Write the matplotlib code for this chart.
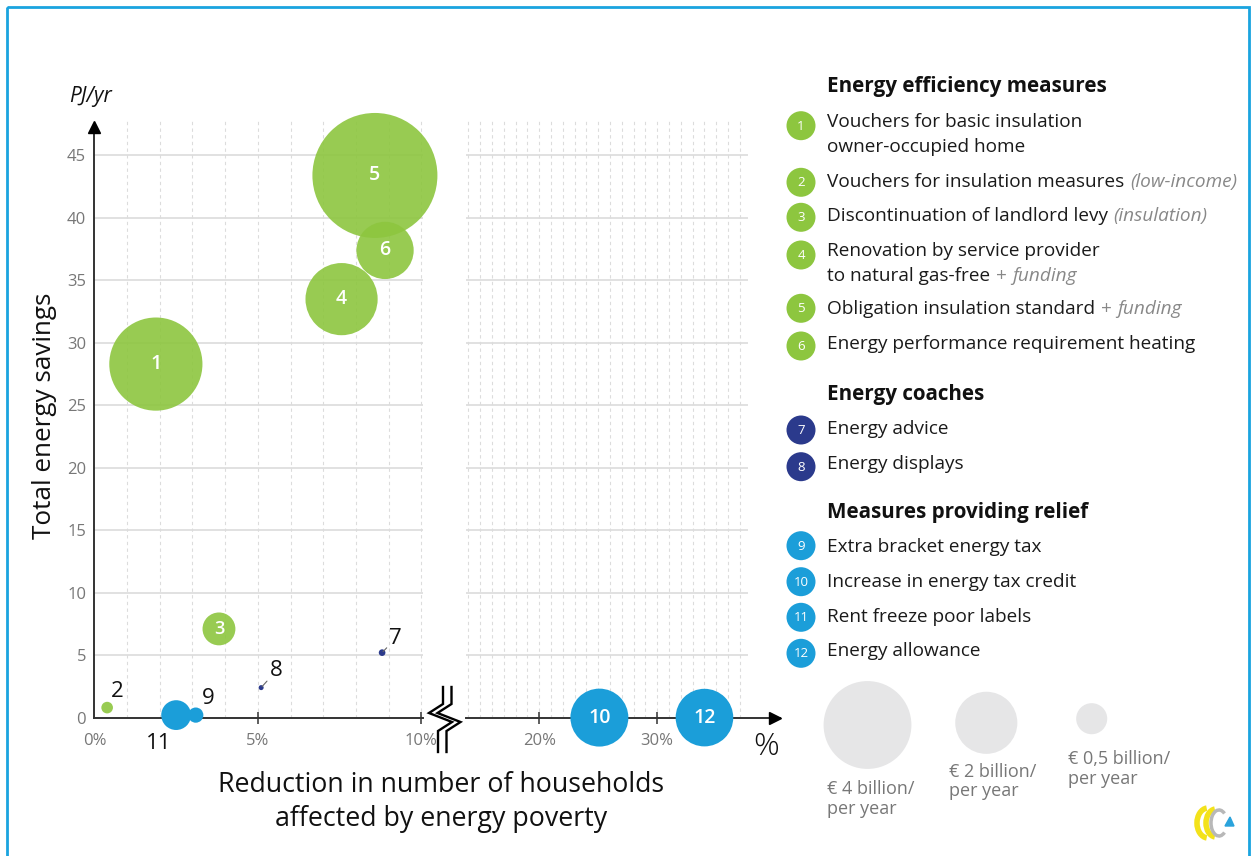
import matplotlib
matplotlib.use('Agg')
import matplotlib.pyplot as plt
from matplotlib.patches import Rectangle, Arc, Polygon

plt.rcParams['font.family'] = ['Open Sans', 'DejaVu Sans']

# ---------------- data ----------------
measure_ids = [1, 2, 3, 4, 5, 6, 7, 8, 9, 10, 11, 12]
households_pct = [1.88, 0.39, 3.81, 7.56, 8.58, 8.89, 8.80, 5.10, 3.10, 25.1, 2.50, 34.0]
savings_pj = [28.3, 0.8, 7.1, 33.5, 43.4, 37.4, 5.2, 2.4, 0.2, 0.0, 0.2, 0.0]
cost_bn = [4.5, 0.07, 0.56, 2.7, 8.1, 1.7, 0.023, 0.013, 0.12, 1.74, 0.46, 1.72]
groups = ['eff'] * 6 + ['coach'] * 2 + ['relief'] * 4

group_colors = {'eff': '#8DC63F', 'coach': '#2B3A8C', 'relief': '#1B9ED9'}
group_alpha = {'eff': 0.9, 'coach': 1.0, 'relief': 1.0}

inside_labels = [1, 3, 4, 5, 6, 10, 12]
outside_offsets = {2: (7.4, 11.7), 9: (9.1, 12.0), 11: (-12.7, -20.4),
                   8: (10.8, 12.0), 7: (9.9, 10.4)}
leader_ids = [7, 8]

y_ticks = [0, 5, 10, 15, 20, 25, 30, 35, 40, 45]
x_ticks_left = [0, 5, 10]
x_ticks_right = [20, 30]

group_headers = ['Energy efficiency measures', 'Energy coaches', 'Measures providing relief']
legend_main = [
    ['Vouchers for basic insulation', 'owner-occupied home'],
    ['Vouchers for insulation measures'],
    ['Discontinuation of landlord levy'],
    ['Renovation by service provider', 'to natural gas-free'],
    ['Obligation insulation standard'],
    ['Energy performance requirement heating'],
    ['Energy advice'],
    ['Energy displays'],
    ['Extra bracket energy tax'],
    ['Increase in energy tax credit'],
    ['Rent freeze poor labels'],
    ['Energy allowance'],
]
legend_note = ['', '(low-income)', '(insulation)', 'funding', 'funding', '',
               '', '', '', '', '', '']
legend_plus = [False, False, False, True, True, False,
               False, False, False, False, False, False]

size_legend_bn = [4, 2, 0.5]
size_legend_labels = ['€ 4 billion/\nper year', '€ 2 billion/\nper year', '€ 0,5 billion/\nper year']

SIZE_SCALE = 1000  # points^2 per billion euro

# ---------------- figure ----------------
W, H = 1256, 856
fig = plt.figure(figsize=(W / 100, H / 100), dpi=100)
fig.patch.set_facecolor('white')

y0_px, ytop_px = 717.6, 118
bottom = (H - y0_px) / H
height = (y0_px - ytop_px) / H

ax1 = fig.add_axes([94.4 / W, bottom, (423.3 - 94.4) / W, height])
ax2 = fig.add_axes([466 / W, bottom, 314 / W, height])

XL1 = (0, 10.06)
XL2 = (13.8, 40.4)
YL = (0, 48)
grid_c = '#DCDCDC'
axis_c = '#333333'

for ax, xl in ((ax1, XL1), (ax2, XL2)):
    ax.set_xlim(*xl)
    ax.set_ylim(*YL)
    ax.patch.set_alpha(0)
    for s in ('top', 'right'):
        ax.spines[s].set_visible(False)
    ax.spines['bottom'].set_color(axis_c)
    ax.spines['bottom'].set_linewidth(1.4)
    ax.tick_params(axis='x', direction='inout', length=9, width=1.1, color=axis_c,
                   pad=6.5, labelsize=12, labelcolor='#777777')

# left panel
ax1.spines['left'].set_color(axis_c)
ax1.spines['left'].set_linewidth(1.4)
ax1.spines['left'].set_bounds(0, 47)
ax1.set_yticks(y_ticks)
ax1.set_yticklabels([str(v) for v in y_ticks])
ax1.tick_params(axis='y', length=0, pad=6, labelsize=12, labelcolor='#777777')
ax1.set_xticks(x_ticks_left)
ax1.set_xticklabels([f'{v}%' for v in x_ticks_left])
ax1.xaxis.get_major_ticks()[0].tick1line.set_visible(False)
ax1.hlines(y_ticks[1:], XL1[0], XL1[1], color=grid_c, lw=1.2, zorder=0)
ax1.vlines(range(1, 11), 0, YL[1], color=grid_c, lw=0.8, linestyles=(0, (3, 3)), zorder=0)
ax1.plot([0], [0.985], marker='^', color='black', ms=9, transform=ax1.transAxes,
         clip_on=False, zorder=5)

# right panel
ax2.spines['left'].set_visible(False)
ax2.set_yticks([])
ax2.set_xticks(x_ticks_right)
ax2.set_xticklabels([f'{v}%' for v in x_ticks_right])
ax2.hlines(y_ticks[1:], XL2[0], 37.7, color=grid_c, lw=1.2, zorder=0)
ax2.vlines(range(14, 38), 0, YL[1], color=grid_c, lw=0.8, linestyles=(0, (3, 3)), zorder=0)
ax2.plot([0.985], [0], marker='>', color='black', ms=9, transform=ax2.transAxes,
         clip_on=False, zorder=5)

# bubbles
for mid, x, y, c, g in zip(measure_ids, households_pct, savings_pj, cost_bn, groups):
    ax = ax1 if x <= XL1[1] else ax2
    ax.scatter([x], [y], s=c * SIZE_SCALE, color=group_colors[g], alpha=group_alpha[g],
               edgecolors='none', clip_on=False, zorder=3)
    if mid in inside_labels:
        ax.text(x, y, str(mid), ha='center', va='center', color='white',
                fontsize=13 if c < 1 else 14, fontweight='semibold', zorder=6)
    elif mid in outside_offsets:
        ap = None
        if mid in leader_ids:
            ap = dict(arrowstyle='-', color='#666666', lw=0.8, shrinkA=0, shrinkB=1)
        ax.annotate(str(mid), xy=(x, y), xytext=outside_offsets[mid],
                    textcoords='offset points', ha='center', va='center',
                    fontsize=16, color='#111111', arrowprops=ap, zorder=6,
                    annotation_clip=False)

# ---------------- overlay (pixel coordinates) ----------------
lax = fig.add_axes([0, 0, 1, 1])
lax.set_xlim(0, W)
lax.set_ylim(H, 0)
lax.axis('off')

# border
lax.add_patch(Rectangle((7, 7), 1242, 900, fill=False, edgecolor='#1AA4DF', lw=2,
                        clip_on=False))

# axis break symbol
for k in (0, 8.5):
    xs = [443 + k, 443 + k, 429 + k, 452 + k, 438 + k, 438 + k]
    ys = [687, 704, 713, 722, 731, 752]
    lax.plot(xs, ys, color='black', lw=1.7, solid_joinstyle='miter')

# axis titles
lax.text(45, 416, 'Total energy savings', rotation=90, ha='center', va='center',
         fontsize=18.8, color='#111111')
lax.text(441, 802, 'Reduction in number of households\naffected by energy poverty',
         ha='center', va='center', fontsize=19.3, color='#111111', linespacing=1.28)
lax.text(90, 96, 'PJ/yr', ha='center', va='center', fontsize=15, style='italic',
         color='#111111')
lax.text(766, 747, '%', ha='center', va='center', fontsize=23, fontweight='light',
         color='#111111')

# legend
header_y = [86.7, 394, 512.7]
circle_y = [125.7, 182.3, 217.3, 255, 308.3, 346, 430, 466.7, 545.7, 581.7, 617.3, 653.3]
text_y = [121.7, 181.7, 216, 250.7, 309.3, 344.3, 429.3, 464, 546.7, 581.7, 616.7, 651]
line_gap = 25.5
LX_C, LX_T = 801, 827

for hdr, hy in zip(group_headers, header_y):
    lax.text(LX_T, hy, hdr, ha='left', va='center', fontsize=14.9, fontweight='bold',
             color='#111111')

for i, mid in enumerate(measure_ids):
    g = groups[i]
    lax.scatter([LX_C], [circle_y[i]], s=(29 * 0.72) ** 2, color=group_colors[g],
                edgecolors='none', zorder=3)
    lax.text(LX_C, circle_y[i] + 0.5, str(mid), ha='center', va='center', fontsize=9.5,
             color='white', zorder=4)
    last = None
    for j, line in enumerate(legend_main[i]):
        last = lax.text(LX_T, text_y[i] + j * line_gap, line, ha='left', va='center',
                        fontsize=13.7, color='#1a1a1a')
    if legend_plus[i]:
        last = lax.annotate('+', xy=(1, 0), xycoords=last, xytext=(4, 0),
                            textcoords='offset points', ha='left', va='bottom',
                            fontsize=13.7, color='#888888')
    if legend_note[i]:
        lax.annotate(legend_note[i], xy=(1, 0), xycoords=last, xytext=(4, 0),
                     textcoords='offset points', ha='left', va='bottom',
                     fontsize=13.7, color='#888888', style='italic')

# size legend
size_cx = [867.5, 986.3, 1091.7]
size_cy = [725, 722.8, 718.7]
size_tx = [826.7, 949, 1068.3]
size_ty = [799, 781.7, 768.8]
for bn, cx, cy, lbl, tx, ty in zip(size_legend_bn, size_cx, size_cy, size_legend_labels,
                                   size_tx, size_ty):
    lax.scatter([cx], [cy], s=bn * SIZE_SCALE, color='#E6E6E7', edgecolors='none')
    lax.text(tx, ty, lbl, ha='left', va='center', fontsize=13, color='#777777',
             linespacing=1.1)

# logo
lax.add_patch(Arc((1208, 823), 22, 30, theta1=95, theta2=265, color='#F3E21B', lw=4))
lax.add_patch(Arc((1216, 823), 20, 28, theta1=95, theta2=265, color='#F3E21B', lw=4))
lax.add_patch(Arc((1219, 823), 16, 26, theta1=60, theta2=300, color='#B8B8B8', lw=2.5))
lax.add_patch(Polygon([[1225, 826], [1234, 826], [1230, 817]], closed=True,
                      color='#2AA3DC'))

fig.savefig('out.png', dpi=100, facecolor='white')
